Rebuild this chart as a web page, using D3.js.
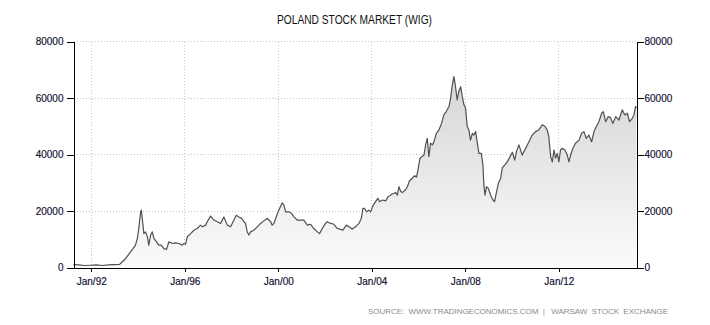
<!DOCTYPE html>
<html>
<head>
<meta charset="utf-8">
<script src="https://cdn.jsdelivr.net/npm/d3@7"></script>
<style>
  html, body { margin: 0; padding: 0; background: #fff; }
  svg { display: block; }
  .tick text { font-family: "Liberation Sans", Arial, sans-serif; font-size: 10px; fill: #0e0e30; stroke: #0e0e30; stroke-width: 0.15px; }
</style>
</head>
<body>
<svg id="chart" width="710" height="325"></svg>
<script>
// WIG index level, decimal year of each reading
const years = [
  1991.24, 1991.46, 1991.71, 1991.97, 1992.23, 1992.48, 1992.74, 1993.00, 1993.21, 1993.25,
  1993.47, 1993.68, 1993.89, 1993.97, 1994.04, 1994.11, 1994.14, 1994.18, 1994.25, 1994.32,
  1994.40, 1994.46, 1994.54, 1994.61, 1994.68, 1994.79, 1994.89, 1994.99, 1995.11, 1995.22,
  1995.32, 1995.46, 1995.61, 1995.75, 1995.89, 1995.96, 1996.03, 1996.11, 1996.25, 1996.39,
  1996.53, 1996.67, 1996.75, 1996.89, 1996.96, 1997.10, 1997.24, 1997.39, 1997.53, 1997.67,
  1997.82, 1997.96, 1998.10, 1998.20, 1998.31, 1998.43, 1998.53, 1998.60, 1998.67, 1998.74,
  1998.81, 1998.95, 1999.10, 1999.24, 1999.38, 1999.53, 1999.67, 1999.74, 1999.81, 1999.91,
  2000.02, 2000.17, 2000.24, 2000.31, 2000.45, 2000.57, 2000.67, 2000.81, 2000.95, 2001.09,
  2001.24, 2001.38, 2001.52, 2001.67, 2001.76, 2001.88, 2002.02, 2002.09, 2002.24, 2002.38,
  2002.52, 2002.66, 2002.76, 2002.91, 2003.02, 2003.16, 2003.30, 2003.45, 2003.55, 2003.62,
  2003.69, 2003.78, 2003.87, 2003.95, 2004.06, 2004.16, 2004.26, 2004.33, 2004.45, 2004.59,
  2004.69, 2004.87, 2005.02, 2005.09, 2005.16, 2005.23, 2005.30, 2005.44, 2005.52, 2005.61,
  2005.73, 2005.83, 2005.91, 2005.97, 2006.06, 2006.23, 2006.30, 2006.37, 2006.44, 2006.51,
  2006.59, 2006.65, 2006.76, 2006.87, 2006.98, 2007.08, 2007.18, 2007.30, 2007.37, 2007.44,
  2007.51, 2007.58, 2007.65, 2007.72, 2007.80, 2007.87, 2007.94, 2008.01, 2008.08, 2008.15,
  2008.22, 2008.30, 2008.36, 2008.44, 2008.51, 2008.58, 2008.68, 2008.75, 2008.79, 2008.84,
  2008.90, 2008.98, 2009.08, 2009.18, 2009.25, 2009.32, 2009.41, 2009.51, 2009.58, 2009.69,
  2009.79, 2009.89, 2010.01, 2010.11, 2010.19, 2010.29, 2010.43, 2010.58, 2010.72, 2010.86,
  2011.00, 2011.14, 2011.29, 2011.40, 2011.50, 2011.57, 2011.65, 2011.72, 2011.79, 2011.86,
  2011.93, 2012.00, 2012.07, 2012.15, 2012.26, 2012.36, 2012.43, 2012.50, 2012.60, 2012.71,
  2012.86, 2012.97, 2013.07, 2013.17, 2013.28, 2013.40, 2013.50, 2013.60, 2013.71, 2013.83,
  2013.90, 2014.00, 2014.11, 2014.21, 2014.31, 2014.43, 2014.57, 2014.71, 2014.82, 2014.93,
  2015.02, 2015.14, 2015.21, 2015.28, 2015.32
];
const values = [
  1000, 900, 700, 800, 900, 700, 900, 1000, 1100, 1400,
  3200, 5500, 7900, 10300, 14400, 19700, 20300, 17400, 12000, 12600,
  10900, 7900, 11500, 12600, 10300, 9100, 7900, 7900, 6700, 6400,
  9100, 8500, 8700, 8500, 7900, 8500, 8200, 10900, 12000, 13200,
  13800, 15000, 14400, 15000, 16200, 18200, 16800, 16200, 15600, 17900,
  15000, 14400, 16800, 18500, 17900, 17400, 16200, 15600, 12600, 11500,
  12600, 13200, 14400, 15600, 16500, 17400, 16200, 15000, 15600, 17900,
  20300, 22900, 22100, 19700, 19700, 19100, 17900, 16800, 16800, 16800,
  15000, 15300, 13800, 12600, 12000, 13800, 15600, 16200, 15600, 15300,
  13800, 13500, 13200, 15000, 14400, 13600, 14400, 15600, 17400, 20900,
  20900, 19700, 20300, 19700, 22100, 23300, 24500, 23300, 23900, 23600,
  25000, 26000, 26500, 25600, 28600, 27000, 26500, 27500, 28600, 30700,
  31600, 32500, 32000, 34500, 38700, 39800, 43400, 45700, 39200, 44000,
  43400, 44300, 47500, 48700, 51000, 54000, 55200, 57000, 59900, 64600,
  67600, 64000, 59300, 62300, 64000, 60500, 57600, 56400, 49900, 48700,
  45100, 47500, 46900, 48100, 44000, 40400, 40400, 36300, 29200, 25600,
  28600, 28000, 25600, 23900, 23300, 26200, 29800, 31600, 35300, 36300,
  37400, 38900, 40800, 38000, 41200, 43400, 39800, 42200, 44500, 46900,
  48100, 48700, 50500, 50000, 48700, 46300, 39200, 37400, 41600, 38700,
  40400, 37400, 41600, 42200, 41600, 39800, 37400, 39800, 42200, 44000,
  45100, 47500, 48100, 45700, 46900, 44500, 48100, 49900, 51600, 54600,
  55200, 51600, 53400, 53000, 51000, 53400, 52200, 55800, 54000, 54600,
  51600, 52800, 54000, 57000, 56500
];

const yTicks = [0, 20000, 40000, 60000, 80000];
const xTickYears = [1992, 1996, 2000, 2004, 2008, 2012];
const titleText = "POLAND STOCK MARKET (WIG)";
const sourceText = "SOURCE:  WWW.TRADINGECONOMICS.COM  |   WARSAW  STOCK  EXCHANGE";

// decimal year -> Date
function toDate(t) {
  const y = Math.floor(t);
  const a = Date.UTC(y, 0, 1), b = Date.UTC(y + 1, 0, 1);
  return new Date(a + (t - y) * (b - a));
}
const series = years.map((t, i) => ({ date: toDate(t), value: values[i] }));

const margin = { left: 73.5, right: 636.5, top: 41.5, bottom: 267.5 };
const svg = d3.select("#chart");

const x = d3.scaleUtc()
  .domain([toDate(years[0]), toDate(years[years.length - 1])])
  .range([margin.left, margin.right]);
const y = d3.scaleLinear().domain([0, 80000]).range([margin.bottom, margin.top]);

// background gradient for the area under the line
const defs = svg.append("defs");
const grad = defs.append("linearGradient")
  .attr("id", "areaFill")
  .attr("gradientUnits", "userSpaceOnUse")
  .attr("x1", 0).attr("x2", 0)
  .attr("y1", y(80000)).attr("y2", y(0));
grad.append("stop").attr("offset", 0).attr("stop-color", "#cfcfcf");
grad.append("stop").attr("offset", 1).attr("stop-color", "#fbfbfb");

// gridlines
const grid = svg.append("g").attr("class", "grid")
  .attr("stroke", "#c8c8c8").attr("stroke-dasharray", "1,2").attr("shape-rendering", "crispEdges");
grid.selectAll("line.h").data(yTicks.filter(v => v > 0)).join("line")
  .attr("x1", margin.left).attr("x2", margin.right)
  .attr("y1", d => y(d)).attr("y2", d => y(d));
grid.selectAll("line.v").data(xTickYears).join("line")
  .attr("x1", d => x(toDate(d))).attr("x2", d => x(toDate(d)))
  .attr("y1", margin.top).attr("y2", margin.bottom);

// area + line
const area = d3.area().x(d => x(d.date)).y0(y(0)).y1(d => y(d.value));
const line = d3.line().x(d => x(d.date)).y(d => y(d.value));
svg.append("path").datum(series).attr("d", area).attr("fill", "url(#areaFill)");
svg.append("path").datum(series).attr("d", line)
  .attr("fill", "none").attr("stroke", "#505050").attr("stroke-width", 1.2)
  .attr("stroke-linejoin", "round");

// axes
const yAxisL = d3.axisLeft(y).tickValues(yTicks).tickFormat(d3.format("d"))
  .tickSize(7).tickSizeOuter(0).tickPadding(3);
const yAxisR = d3.axisRight(y).tickValues(yTicks).tickFormat(d3.format("d"))
  .tickSize(7).tickSizeOuter(0).tickPadding(1);
const xAxis = d3.axisBottom(x).tickValues(xTickYears.map(toDate))
  .tickFormat(d3.utcFormat("Jan/%y")).tickSize(4).tickSizeOuter(0).tickPadding(6);

function styleAxis(g) {
  g.attr("font-family", null).attr("font-size", null);
  g.selectAll("path.domain").attr("stroke", "#000").attr("shape-rendering", "crispEdges");
  g.selectAll(".tick line").attr("stroke", "#000").attr("shape-rendering", "crispEdges");
}
svg.append("g").attr("transform", `translate(${margin.left},0)`).call(yAxisL).call(styleAxis);
svg.append("g").attr("transform", `translate(${margin.right},0)`).call(yAxisR).call(styleAxis);
svg.append("g").attr("transform", `translate(0,${margin.bottom})`).call(xAxis).call(styleAxis);

// title
svg.append("text")
  .attr("x", 354.5).attr("y", 24)
  .attr("text-anchor", "middle")
  .attr("font-family", "Liberation Sans, Arial, sans-serif")
  .attr("font-size", 12)
  .attr("fill", "#111")
  .attr("textLength", 155).attr("lengthAdjust", "spacingAndGlyphs")
  .text(titleText);

// source line
svg.append("text")
  .attr("x", 368).attr("y", 314)
  .attr("font-family", "Liberation Sans, Arial, sans-serif")
  .attr("font-size", 8)
  .attr("fill", "#8a8a8a")
  .attr("xml:space", "preserve")
  .style("white-space", "pre")
  .attr("textLength", 300).attr("lengthAdjust", "spacing")
  .text(sourceText);
</script>
</body>
</html>
